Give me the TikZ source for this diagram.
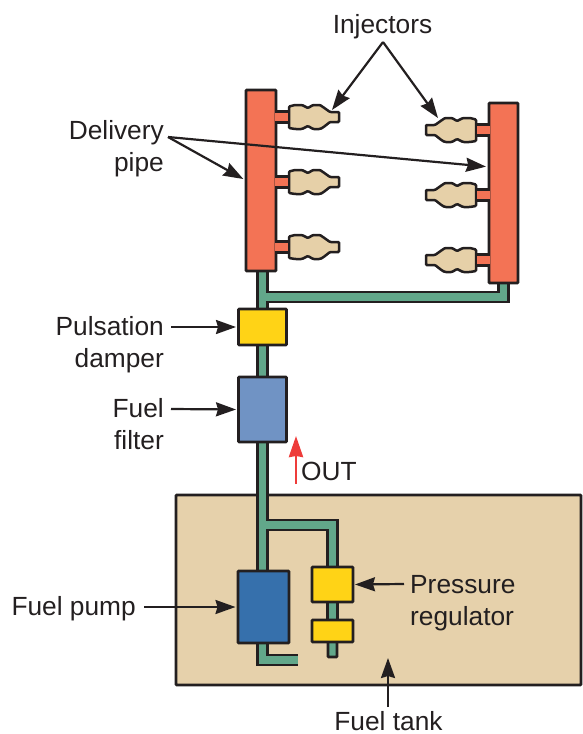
\documentclass[tikz,border=0pt]{standalone}
\usepackage{fontspec}
\usepackage{xcolor}
\usetikzlibrary{arrows.meta,calc}
\setmainfont{Liberation Sans}
\definecolor{RailRed}{RGB}{243,115,85}
\definecolor{InjTan}{RGB}{230,208,168}
\definecolor{PipeGreen}{RGB}{98,167,138}
\definecolor{PartYellow}{RGB}{255,211,22}
\definecolor{FilterBlue}{RGB}{112,147,196}
\definecolor{PumpBlue}{RGB}{54,112,172}
\definecolor{TankTan}{RGB}{230,209,171}
\definecolor{OutRed}{RGB}{238,60,58}
\definecolor{InkBlack}{RGB}{35,31,32}
\pgfdeclarelayer{below}
\pgfsetlayers{below,main}
\tikzset{
  injector/.pic={
    \draw[draw=InkBlack, line width=2.5pt, fill=InjTan, rounded corners=1pt]
      (0,-10.5) -- (6,-12) -- (13,-12) -- (19,-9) -- (24,-12) -- (31,-12) -- (34,-10) -- (41,-5) -- (50,-5)
      -- (50,5) -- (41,5) -- (34,10.5) -- (31,12) -- (24,12) -- (19,9) -- (13,12) -- (6,12) -- (0,11) -- cycle;
    \coordinate (-root) at (0,0);
    \coordinate (-neck) at (43,-7);
    \coordinate (-shoulder) at (38,-12);
  }
}
\begin{document}
\begin{tikzpicture}[
  x=1pt, y=-1pt,
  part/.style={draw=InkBlack, line width=2.8pt, inner sep=0pt, outer sep=0pt, rounded corners=0.8pt},
  pipe/.style={draw=InkBlack, line width=2.6pt, double=PipeGreen, double distance=7.4pt},
  stub/.style={draw=InkBlack, line width=2.5pt, double=RailRed, double distance=8.5pt, shorten <=1.3pt, shorten >=-1.4pt},
  caption/.style={font=\fontsize{26.3}{32}\selectfont, text=InkBlack, inner sep=4pt},
  callout/.style={-{Stealth[length=20pt,width=14pt,inset=2pt]}, line width=2.2pt, draw=InkBlack}
]
\useasboundingbox (0,0) rectangle (582,734);

% tank and pipes stay under the parts
\begin{pgfonlayer}{below}
\node[part, fill=TankTan, minimum width=405pt, minimum height=190pt] (tank) at (378.5,590) {};
\end{pgfonlayer}

\node[part, fill=RailRed, minimum width=30pt, minimum height=181pt] (railL) at (261,180.5) {};
\node[part, fill=RailRed, minimum width=29pt, minimum height=180pt] (railR) at (503.5,193) {};
\node[part, fill=PartYellow, minimum width=48pt, minimum height=36pt] (damper) at (262.5,327) {};
\node[part, fill=FilterBlue, minimum width=48pt, minimum height=65pt] (filter) at (262.5,409.5) {};
\node[part, fill=PumpBlue, minimum width=51pt, minimum height=72pt] (pump) at (263.5,607) {};
\node[part, fill=PartYellow, minimum width=41pt, minimum height=35pt] (reg) at (332.5,584.5) {};
\node[part, fill=PartYellow, minimum width=41pt, minimum height=22pt] (regLow) at (332.5,631) {};

\pic (injA) at (289,117) {injector};
\pic (injB) at (289,182) {injector};
\pic (injC) at (289,247) {injector};
\pic[xscale=-1] (injD) at (476,130) {injector};
\pic[xscale=-1] (injE) at (476,195) {injector};
\pic[xscale=-1] (injF) at (476,260) {injector};

\foreach \inj in {injA,injB,injC}
  \draw[stub] (\inj-root) -- (\inj-root -| railL.east);
\foreach \inj in {injD,injE,injF}
  \draw[stub] (\inj-root) -- (\inj-root -| railR.west);

\coordinate (teeTop) at (262.5,297);
\coordinate (teeLow) at (263,525);
\coordinate (outlet) at (298,660);

\begin{pgfonlayer}{below}
\node[part, fill=PipeGreen, minimum width=9pt, minimum height=20pt] (regEnd) at (332.5,647) {};
\draw[pipe] (damper.north |- railL.south) -- (damper.north) (teeTop) -| (railR.south);
\draw[pipe] (damper.south) -- (filter.north);
\draw[pipe] (filter.south) -- (filter.south |- pump.north) (teeLow) -| (reg.north);
\draw[pipe] (reg.south) -- (regLow.north);
\draw[pipe] (filter.south |- pump.south) |- (outlet);
\end{pgfonlayer}

\node[caption] (injLabel) at (382.5,27) {Injectors};
\node[caption, anchor=east, align=right] (pipeLabel) at (168,149) {Delivery\\pipe};
\node[caption, anchor=east, align=right] (damperLabel) at (168,345) {Pulsation\\damper};
\node[caption, anchor=east, align=right] (filterLabel) at (168,424) {Fuel\\filter};
\node[caption, anchor=east] (pumpLabel) at (140,609) {Fuel pump};
\node[caption, anchor=west, align=left] (regLabel) at (406,603) {Pressure\\regulator};
\node[caption, inner sep=0pt] (tankLabel) at (388.5,721) {Fuel tank};
\node[caption, anchor=west] (outLabel) at (297,471) {OUT};

\coordinate (injFrom) at (383,42);
\coordinate (pipeFrom) at (168,137);
\coordinate (pumpFrom) at (144,607);
\coordinate (damperFrom) at (171,327);
\coordinate (filterFrom) at (171,409);
\coordinate (regFrom) at (404,584);
\coordinate (tankFrom) at (388,707);
\coordinate (tankMark) at (388,658);
\coordinate (railRMark) at ($(railR.north west)!0.355!(railR.south west)$);
\coordinate (outFrom) at (296,484);
\coordinate (outTip) at (296,436);

\draw[callout] (injFrom) -- (injA-neck);
\draw[callout] (injFrom) -- (injD-shoulder);
\draw[callout, shorten >=3pt] (pipeFrom) -- (railL.west);
\draw[callout, shorten >=3pt] (pipeFrom) -- (railRMark);
\draw[callout, shorten >=2.5pt] (damperFrom) -- (damper.west);
\draw[callout, shorten >=2.5pt] (filterFrom) -- (filter.west);
\draw[callout, shorten >=2.5pt] (pumpFrom) -- (pump.west);
\draw[callout, shorten >=2pt] (regFrom) -- (reg.east);
\draw[callout] (tankFrom) -- (tankMark);
\draw[-{Stealth[length=21pt,width=14pt,inset=1pt]}, line width=2.8pt, draw=OutRed] (outFrom) -- (outTip);
\end{tikzpicture}
\end{document}
